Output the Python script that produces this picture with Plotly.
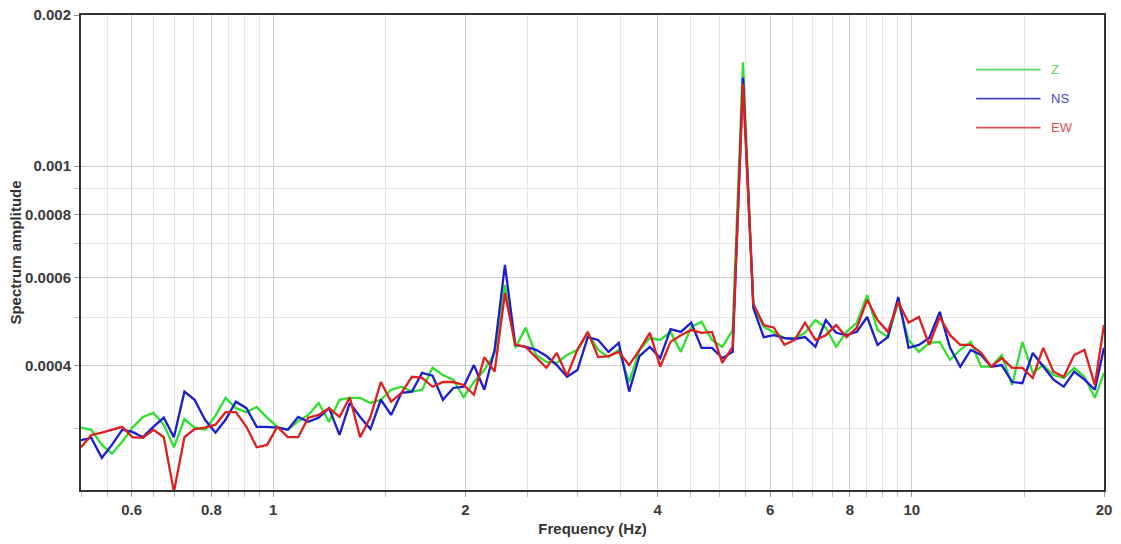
import math
import plotly.graph_objects as go

# Frequency samples (Hz), log-spaced smoothing centres
freq = [
    0.500, 0.519, 0.539, 0.559, 0.580, 0.602, 0.625, 0.649, 0.674, 0.699,
    0.726, 0.753, 0.782, 0.812, 0.842, 0.874, 0.908, 0.942, 0.978, 1.015,
    1.054, 1.094, 1.135, 1.178, 1.223, 1.270, 1.318, 1.368, 1.420, 1.474,
    1.530, 1.588, 1.649, 1.711, 1.776, 1.844, 1.914, 1.987, 2.062, 2.141,
    2.222, 2.306, 2.394, 2.485, 2.580, 2.678, 2.780, 2.885, 2.995, 3.109,
    3.227, 3.350, 3.477, 3.609, 3.746, 3.889, 4.037, 4.190, 4.349, 4.515,
    4.686, 4.865, 5.050, 5.242, 5.441, 5.648, 5.863, 6.085, 6.317, 6.557,
    6.806, 7.065, 7.334, 7.613, 7.902, 8.202, 8.514, 8.838, 9.174, 9.523,
    9.885, 10.26, 10.65, 11.06, 11.48, 11.91, 12.37, 12.84, 13.32, 13.83,
    14.36, 14.90, 15.47, 16.06, 16.67, 17.30, 17.96, 18.64, 19.35, 20.00,
]

# Spectral amplitudes in units of 1e-4
z_e4 = [
    3.01, 2.98, 2.78, 2.67, 2.82, 3.01, 3.16, 3.22, 3.05, 2.75,
    3.13, 3.01, 2.98, 3.18, 3.45, 3.29, 3.23, 3.31, 3.15, 3.02,
    2.98, 3.10, 3.19, 3.37, 3.09, 3.42, 3.45, 3.45, 3.37, 3.42,
    3.58, 3.63, 3.55, 3.58, 3.96, 3.83, 3.75, 3.46, 3.71, 3.92,
    4.24, 5.79, 4.34, 4.76, 4.20, 4.07, 4.05, 4.20, 4.30, 4.65,
    4.30, 4.16, 4.30, 3.71, 4.30, 4.54, 4.50, 4.67, 4.26, 4.78,
    4.89, 4.50, 4.36, 4.71, 16.1, 5.28, 4.78, 4.65, 4.54, 4.54,
    4.65, 4.93, 4.76, 4.36, 4.67, 4.87, 5.53, 4.71, 4.56, 5.36,
    4.50, 4.26, 4.44, 4.46, 4.11, 4.30, 4.46, 3.98, 3.98, 4.20,
    3.66, 4.46, 3.87, 4.01, 3.83, 3.78, 3.96, 3.80, 3.45, 3.87,
]
ns_e4 = [
    2.84, 2.87, 2.62, 2.78, 2.98, 2.95, 2.88, 3.02, 3.15, 2.88,
    3.55, 3.42, 3.12, 2.94, 3.12, 3.39, 3.29, 3.02, 3.02, 3.01,
    2.98, 3.16, 3.09, 3.15, 3.29, 2.91, 3.37, 3.16, 2.99, 3.42,
    3.19, 3.53, 3.55, 3.87, 3.82, 3.42, 3.61, 3.63, 4.01, 3.58,
    4.30, 6.35, 4.40, 4.36, 4.30, 4.18, 4.01, 3.80, 3.92, 4.56,
    4.50, 4.26, 4.44, 3.55, 4.18, 4.36, 4.14, 4.73, 4.67, 4.87,
    4.34, 4.34, 4.14, 4.26, 15.0, 5.21, 4.56, 4.60, 4.54, 4.52,
    4.56, 4.36, 4.93, 4.65, 4.60, 4.67, 5.00, 4.40, 4.56, 5.48,
    4.34, 4.40, 4.54, 5.12, 4.34, 3.98, 4.30, 4.20, 3.98, 4.01,
    3.71, 3.69, 4.24, 3.98, 3.75, 3.63, 3.89, 3.75, 3.58, 4.34,
]
ew_e4 = [
    2.75, 2.91, 2.94, 2.98, 3.02, 2.88, 2.87, 2.98, 2.88, 2.24,
    2.88, 2.99, 3.01, 3.05, 3.23, 3.23, 3.02, 2.75, 2.78, 3.02,
    2.88, 2.88, 3.15, 3.19, 3.29, 3.16, 3.46, 2.88, 3.16, 3.71,
    3.39, 3.53, 3.80, 3.78, 3.63, 3.71, 3.71, 3.66, 3.50, 4.16,
    3.89, 5.58, 4.40, 4.36, 4.16, 3.96, 4.24, 3.82, 4.30, 4.67,
    4.16, 4.18, 4.26, 4.01, 4.30, 4.65, 3.98, 4.46, 4.60, 4.71,
    4.65, 4.67, 4.05, 4.36, 14.6, 5.31, 4.82, 4.76, 4.40, 4.50,
    4.87, 4.50, 4.60, 4.82, 4.56, 4.76, 5.41, 4.93, 4.67, 5.36,
    4.87, 5.00, 4.40, 5.00, 4.60, 4.40, 4.40, 4.24, 3.98, 4.14,
    3.96, 3.96, 3.78, 4.34, 3.89, 3.80, 4.20, 4.30, 3.66, 4.82,
]

UNIT = 1e-4
series = [
    ("Z", [v * UNIT for v in z_e4], "#2fe02f", "#5cd65c"),
    ("NS", [v * UNIT for v in ns_e4], "#1c1cd0", "#4646c8"),
    ("EW", [v * UNIT for v in ew_e4], "#e01e1e", "#e05050"),
]

x_major = [0.6, 0.8, 1, 2, 4, 6, 8, 10, 20]
x_major_text = ["0.6", "0.8", "1", "2", "4", "6", "8", "10", "20"]
x_minor = [0.5, 0.55, 0.65, 0.7, 0.75, 0.85, 0.9, 0.95, 1.5, 2.5, 3, 3.5,
           4.5, 5, 5.5, 6.5, 7, 7.5, 8.5, 9, 9.5, 15]
y_major = [0.0004, 0.0006, 0.0008, 0.001, 0.002]
y_major_text = ["0.0004", "0.0006", "0.0008", "0.001", "0.002"]
y_minor = [0.0003, 0.0005, 0.0007, 0.0009]

FONT = "Liberation Sans, Arial, sans-serif"

fig = go.Figure()
for name, vals, color, _ in series:
    fig.add_trace(go.Scatter(
        x=freq, y=vals, mode="lines", name=name,
        line=dict(color=color, width=2.3),
        showlegend=False,
    ))

# Legend drawn as short line samples with coloured labels
legend_top = 0.885
for k, (name, _, _, lcolor) in enumerate(series):
    yy = legend_top - k * 0.061
    fig.add_shape(type="line", xref="paper", yref="paper",
                  x0=0.875, x1=0.938, y0=yy, y1=yy,
                  line=dict(color=lcolor, width=1.8))
    fig.add_annotation(xref="paper", yref="paper", x=0.946, y=yy,
                       text=name, showarrow=False, xanchor="left",
                       yanchor="middle",
                       font=dict(family=FONT, size=13, color=lcolor))

axis_common = dict(
    type="log",
    showline=True, linecolor="#333333", linewidth=2, mirror=True,
    ticks="outside", ticklen=5, tickcolor="#9a9a9a",
    showgrid=True, gridcolor="#cccccc", gridwidth=1,
    zeroline=False,
    tickfont=dict(family=FONT, size=15, color="#3a3a3a", weight="bold"),
)

fig.update_xaxes(
    **axis_common,
    range=[math.log10(0.5), math.log10(20)],
    tickmode="array", tickvals=x_major, ticktext=x_major_text,
    minor=dict(tickmode="array", tickvals=x_minor, ticks="outside",
               ticklen=5, tickcolor="#bdbdbd", showgrid=True,
               gridcolor="#e6e6e6", gridwidth=1),
    title=dict(text="Frequency (Hz)", standoff=6,
               font=dict(family=FONT, size=15, color="#333333", weight="bold")),
)
fig.update_yaxes(
    **axis_common,
    range=[math.log10(0.000226), math.log10(0.002)],
    tickmode="array", tickvals=y_major, ticktext=y_major_text,
    minor=dict(tickmode="array", tickvals=y_minor, ticks="outside",
               ticklen=5, tickcolor="#bdbdbd", showgrid=True,
               gridcolor="#e6e6e6", gridwidth=1),
    title=dict(text="Spectrum amplitude", standoff=0,
               font=dict(family=FONT, size=15, color="#333333", weight="bold")),
)

fig.update_layout(
    width=1121, height=544,
    margin=dict(l=81, r=17, t=15, b=54, autoexpand=False),
    paper_bgcolor="white", plot_bgcolor="white",
)

fig.write_html("out.html")
